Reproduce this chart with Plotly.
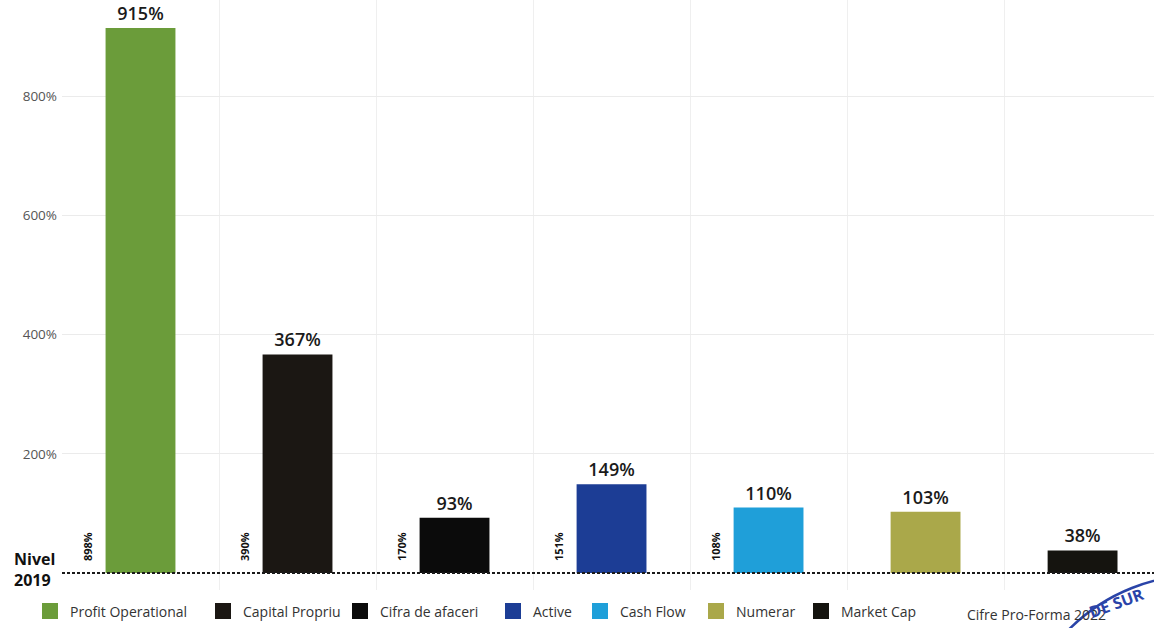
import plotly.graph_objects as go

# Growth of each indicator versus the 2019 level (%)
categories = ["Profit Operational", "Capital Propriu", "Cifra de afaceri",
              "Active", "Cash Flow", "Numerar", "Market Cap"]
growth_pct = [915, 367, 93, 149, 110, 103, 38]
# small side figures printed vertically next to some bars
side_pct = [898, 390, 170, 151, 108, None, None]
bar_colors = ["#6b9c3a", "#1b1713", "#0b0b0b", "#1c3d95",
              "#1f9fd9", "#aaa84a", "#15140f"]
# horizontal room given to each legend entry (px)
legend_widths = [128, 92, 108, 42, 71, 60, 80]
y_ticks = [200, 400, 600, 800]
y_tick_text = [f"{v}%" for v in y_ticks]
baseline_label = "Nivel<br>2019"
footnote = "Cifre Pro-Forma 2022"

FONT = "Open Sans"
PLOT_W = 1092
PLOT_H = 590

fig = go.Figure()

for name, val, col, lw in zip(categories, growth_pct, bar_colors, legend_widths):
    fig.add_trace(go.Bar(
        x=[name], y=[val], width=0.445,
        marker=dict(color=col, line=dict(width=0)),
        text=[f"{val}%"], textposition="outside",
        textfont=dict(family=FONT, size=18, color="#1a1a1a", weight=600),
        cliponaxis=False, showlegend=False, name=name,
        legendgroup=name, hoverinfo="skip",
    ))
    # square legend swatch
    fig.add_trace(go.Scatter(
        x=[None], y=[None], mode="markers", name=name, legendgroup=name,
        legendwidth=lw,
        marker=dict(symbol="square", size=16, color=col),
    ))

annotations = []
for name, v in zip(categories, side_pct):
    if v is None:
        continue
    annotations.append(dict(
        x=name, y=0, xref="x", yref="y", text=f"{v}%", showarrow=False,
        textangle=-90, xanchor="center", yanchor="bottom",
        xshift=-53, yshift=10,
        font=dict(family=FONT, size=11, color="#111", weight="bold"),
    ))

annotations.append(dict(
    x=-50 / PLOT_W, y=0, xref="paper", yref="y", text=baseline_label,
    showarrow=False, xanchor="left", yanchor="middle", align="left", yshift=4,
    font=dict(family=FONT, size=16, color="#111", weight="bold"),
))
annotations.append(dict(
    x=(965 - 62) / PLOT_W, y=(PLOT_H - 614) / PLOT_H, xref="paper", yref="paper",
    text=footnote, showarrow=False, xanchor="left", yanchor="middle",
    font=dict(family=FONT, size=14, color="#333"),
))
annotations.append(dict(
    x=(1116 - 62) / PLOT_W, y=(PLOT_H - 603) / PLOT_H, xref="paper", yref="paper",
    text="DE SUR", showarrow=False, xanchor="center", yanchor="middle",
    textangle=-20,
    font=dict(family=FONT, size=16, color="#2a44a8", weight="bold"),
))

shapes = [
    # 2019 reference level
    dict(type="line", xref="paper", yref="y", x0=0, x1=1, y0=0, y1=0,
         line=dict(color="#1a1a1a", width=2, dash="3px,2px"), layer="above"),
    # stamp outline in the corner
    dict(type="circle", xref="paper", yref="paper",
         x0=(1015 - 62) / PLOT_W, x1=(1385 - 62) / PLOT_W,
         y0=(PLOT_H - 945) / PLOT_H, y1=(PLOT_H - 575) / PLOT_H,
         line=dict(color="#2a44a8", width=2.5), layer="above"),
]

fig.update_layout(
    width=1154, height=628,
    margin=dict(l=62, r=0, t=0, b=628 - PLOT_H),
    paper_bgcolor="white", plot_bgcolor="white",
    barmode="overlay",
    font=dict(family=FONT, color="#333"),
    showlegend=True,
    legend=dict(
        orientation="h", x=(30 - 62) / PLOT_W, xanchor="left",
        y=(PLOT_H - 627.5) / PLOT_H, yanchor="bottom",
        font=dict(family=FONT, size=14, color="#333"),
        bgcolor="rgba(0,0,0,0)", itemclick=False, itemdoubleclick=False,
    ),
    xaxis=dict(
        type="category", categoryorder="array", categoryarray=categories,
        range=[-0.5, 6.455], showticklabels=False, showgrid=True,
        tickson="boundaries", gridcolor="#efefef", gridwidth=1,
        zeroline=False, showline=False, ticks="",
    ),
    yaxis=dict(
        range=[-28.5, 962], tickvals=y_ticks, ticktext=y_tick_text,
        showgrid=True, gridcolor="#ebebeb", gridwidth=1, zeroline=False,
        showline=False, ticks="", ticklabelstandoff=4,
        tickfont=dict(family=FONT, size=13.5, color="#555"),
    ),
    annotations=annotations,
    shapes=shapes,
)

fig.write_html("out.html")
